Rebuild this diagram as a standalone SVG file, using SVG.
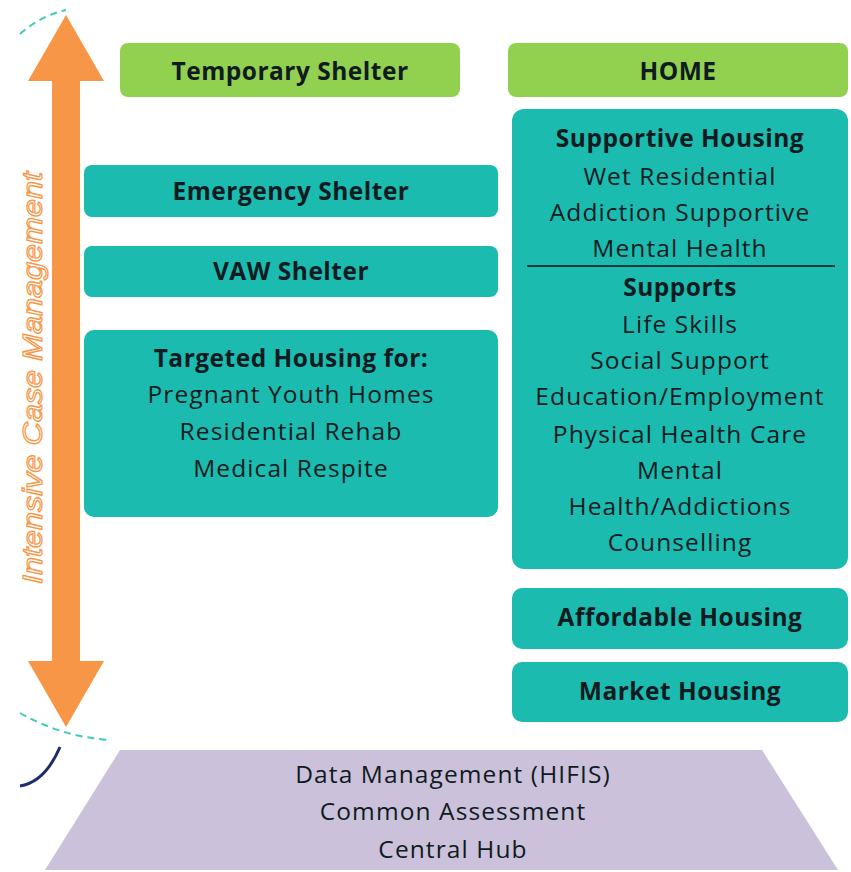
<svg xmlns="http://www.w3.org/2000/svg" width="851" height="872" viewBox="0 0 851 872">
<style>
.t{fill:#1cbbb0}
.g{fill:#92d050}
.lb{font-family:"Open Sans","Liberation Sans",Arial,sans-serif;font-size:24.5px;letter-spacing:1.1px;fill:#0f1b1f;text-anchor:middle}
.b{font-weight:bold;letter-spacing:0.5px}
</style>
<rect width="851" height="872" fill="#fff"/>
<g id="base">
<polygon points="120,750 762,750 838,870 45,870" fill="#ccc1da"/>
<text class="lb" x="453" y="783">Data Management (HIFIS)</text>
<text class="lb" x="453" y="820">Common Assessment</text>
<text class="lb" x="453" y="858">Central Hub</text>
</g>
<g id="decor" fill="none">
<path d="M20,34 Q40,16 66,10" stroke="#3ec9be" stroke-width="2" stroke-dasharray="7,5"/>
<path d="M20,713 Q60,736 108,740" stroke="#3ec9be" stroke-width="2" stroke-dasharray="7,5"/>
<path d="M60,747 Q45,782 20,786" stroke="#1f2d6b" stroke-width="3"/>
</g>
<g id="arrow">
<polygon points="66,15 104,81 80,81 80,661 104,661 66,727 28,661 52,661 52,81 28,81" fill="#f79646"/>
<text x="0" y="0" transform="translate(42,378) rotate(-90)" font-family="'Liberation Sans',Arial,sans-serif" font-style="italic" font-size="27" text-anchor="middle" fill="#fff" stroke="#f79646" stroke-width="1.2" textLength="412" lengthAdjust="spacingAndGlyphs">Intensive Case Management</text>
</g>
<g id="temporary">
<rect class="g" x="120" y="43" width="340" height="54" rx="8"/>
<text class="lb b" x="290" y="80">Temporary Shelter</text>
</g>
<g id="home">
<rect class="g" x="508" y="43" width="340" height="54" rx="8"/>
<text class="lb b" x="678" y="80">HOME</text>
</g>
<g id="emergency">
<rect class="t" x="84" y="165" width="414" height="52" rx="8"/>
<text class="lb b" x="291" y="200">Emergency Shelter</text>
</g>
<g id="vaw">
<rect class="t" x="84" y="246" width="414" height="51" rx="8"/>
<text class="lb b" x="291" y="280">VAW Shelter</text>
</g>
<g id="targeted">
<rect class="t" x="84" y="330" width="414" height="187" rx="10"/>
<text class="lb b" x="291" y="367">Targeted Housing for:</text>
<text class="lb" x="291" y="403">Pregnant Youth Homes</text>
<text class="lb" x="291" y="440">Residential Rehab</text>
<text class="lb" x="291" y="477">Medical Respite</text>
</g>
<g id="supportive">
<rect class="t" x="512" y="109" width="336" height="460" rx="12"/>
<text class="lb b" x="680" y="147">Supportive Housing</text>
<text class="lb" x="680" y="185">Wet Residential</text>
<text class="lb" x="680" y="221">Addiction Supportive</text>
<text class="lb" x="680" y="257">Mental Health</text>
<line x1="527" y1="266" x2="835" y2="266" stroke="#111" stroke-width="1.5"/>
<text class="lb b" x="680" y="296">Supports</text>
<text class="lb" x="680" y="333">Life Skills</text>
<text class="lb" x="680" y="369">Social Support</text>
<text class="lb" x="680" y="405">Education/Employment</text>
<text class="lb" x="680" y="443">Physical Health Care</text>
<text class="lb" x="680" y="479">Mental</text>
<text class="lb" x="680" y="515">Health/Addictions</text>
<text class="lb" x="680" y="551">Counselling</text>
</g>
<g id="affordable">
<rect class="t" x="512" y="588" width="336" height="61" rx="10"/>
<text class="lb b" x="680" y="626">Affordable Housing</text>
</g>
<g id="market">
<rect class="t" x="512" y="662" width="336" height="60" rx="10"/>
<text class="lb b" x="680" y="700">Market Housing</text>
</g>
<g id="connectors"></g>
</svg>
